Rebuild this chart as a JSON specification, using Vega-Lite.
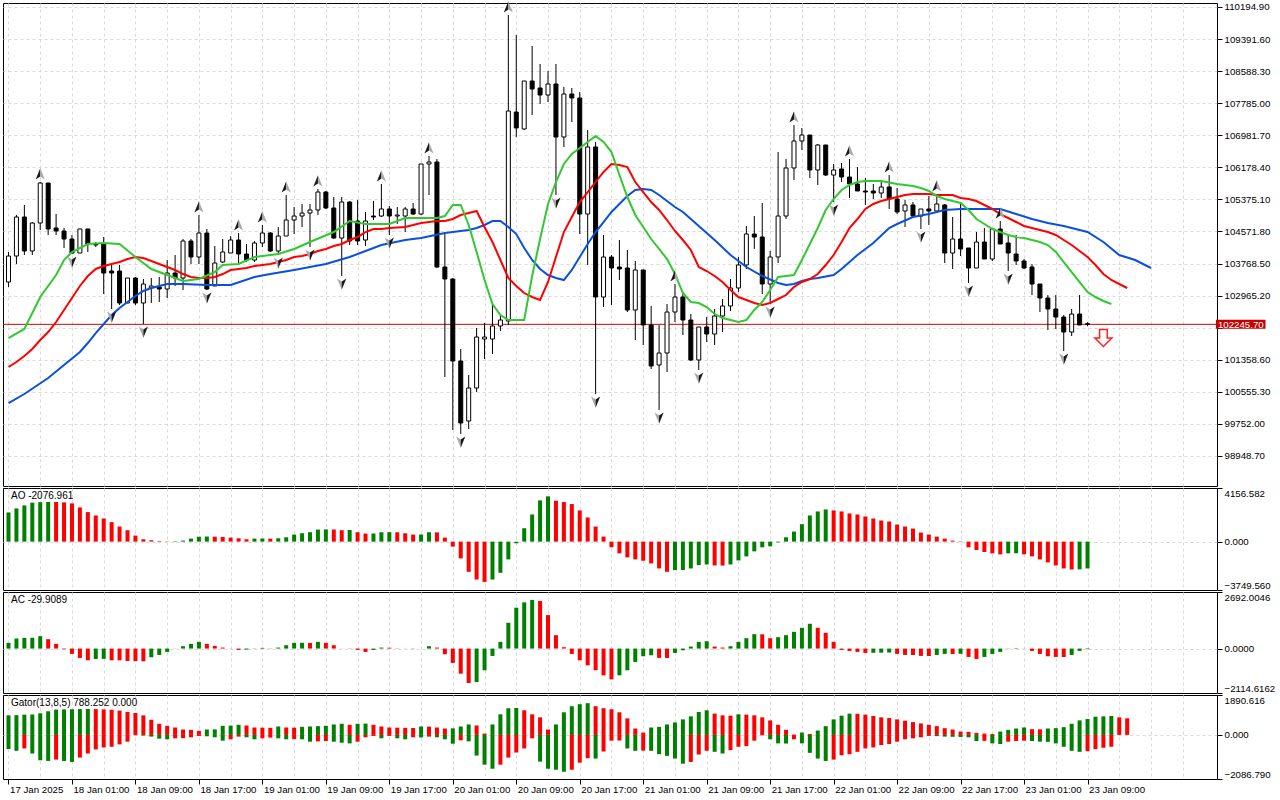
{
"$schema":"https://vega.github.io/schema/vega-lite/v6.json",
"background":"#ffffff",
"padding":{"left":2,"top":0,"right":0,"bottom":0},
"spacing":0,
"config":{
 "view":{"stroke":"#000000","strokeWidth":1},
 "font":"Liberation Sans, sans-serif",
 "axis":{"labelFont":"Liberation Sans, sans-serif","labelFontSize":9.7,"labelColor":"#000000","tickColor":"#000000","tickSize":5,"labelPadding":2,"domain":false,"gridColor":"#d9d9d9","gridDash":[3,3],"gridWidth":1,"labelOverlap":false},
 "text":{"font":"Liberation Sans, sans-serif","fontSize":10,"color":"#000000"}
},
"datasets":{
"current":[{"p":102245.7}],
"signals":[{"t":"2025-01-23T11:00Z","p":101903}],
"bars":[
{"t":"2025-01-17T17:00Z","o":103306,"h":104058,"l":103181,"c":103957,"ao":2262,"ac":271,"gu":928,"gl":-672},
{"t":"2025-01-17T18:00Z","o":103957,"h":104984,"l":103757,"c":104934,"ao":2574,"ac":478,"gu":936,"gl":-752},
{"t":"2025-01-17T19:00Z","o":104934,"h":105235,"l":103982,"c":104083,"ao":2808,"ac":510,"gu":960,"gl":-640},
{"t":"2025-01-17T20:00Z","o":104083,"h":104809,"l":103982,"c":104784,"ao":3020,"ac":515,"gu":968,"gl":-880},
{"t":"2025-01-17T21:00Z","o":104784,"h":105811,"l":104609,"c":105786,"ao":3060,"ac":590,"gu":1024,"gl":-1200,"fr":"up"},
{"t":"2025-01-17T22:00Z","o":105786,"h":105786,"l":104483,"c":104634,"ao":3080,"ac":446,"gu":1120,"gl":-1232},
{"t":"2025-01-17T23:00Z","o":104659,"h":105009,"l":104483,"c":104584,"ao":3070,"ac":223,"gu":1200,"gl":-1168},
{"t":"2025-01-18T00:00Z","o":104584,"h":104659,"l":104158,"c":104383,"ao":3040,"ac":-32,"gu":1208,"gl":-1232},
{"t":"2025-01-18T01:00Z","o":104383,"h":104483,"l":104007,"c":104032,"ao":2964,"ac":-255,"gu":1216,"gl":-1280,"fr":"dn"},
{"t":"2025-01-18T02:00Z","o":104032,"h":104634,"l":104032,"c":104634,"ao":2652,"ac":-446,"gu":1224,"gl":-1072},
{"t":"2025-01-18T03:00Z","o":104634,"h":104634,"l":104057,"c":104258,"ao":2288,"ac":-558,"gu":1232,"gl":-880},
{"t":"2025-01-18T04:00Z","o":104258,"h":104308,"l":104183,"c":104233,"ao":2028,"ac":-494,"gu":1224,"gl":-688},
{"t":"2025-01-18T05:00Z","o":104258,"h":104433,"l":103005,"c":103531,"ao":1794,"ac":-490,"gu":1208,"gl":-592},
{"t":"2025-01-18T06:00Z","o":103582,"h":103732,"l":102630,"c":103531,"ao":1508,"ac":-558,"gu":1192,"gl":-560,"fr":"dn"},
{"t":"2025-01-18T07:00Z","o":103582,"h":103732,"l":102730,"c":102780,"ao":1170,"ac":-560,"gu":1152,"gl":-448},
{"t":"2025-01-18T08:00Z","o":102780,"h":103406,"l":102780,"c":103406,"ao":884,"ac":-590,"gu":1088,"gl":-320},
{"t":"2025-01-18T09:00Z","o":103406,"h":103431,"l":102730,"c":102780,"ao":468,"ac":-595,"gu":1040,"gl":-16},
{"t":"2025-01-18T10:00Z","o":102780,"h":103381,"l":102254,"c":103256,"ao":182,"ac":-605,"gu":928,"gl":-32,"fr":"dn"},
{"t":"2025-01-18T11:00Z","o":103156,"h":103406,"l":102780,"c":103206,"ao":104,"ac":-414,"gu":720,"gl":-80},
{"t":"2025-01-18T12:00Z","o":103181,"h":103431,"l":102805,"c":103131,"ao":40,"ac":-303,"gu":528,"gl":-176},
{"t":"2025-01-18T13:00Z","o":103131,"h":103857,"l":102905,"c":103531,"ao":20,"ac":-159,"gu":432,"gl":-208},
{"t":"2025-01-18T14:00Z","o":103531,"h":103982,"l":103206,"c":103406,"ao":30,"ac":5,"gu":352,"gl":-160},
{"t":"2025-01-18T15:00Z","o":103406,"h":104383,"l":103106,"c":104333,"ao":78,"ac":112,"gu":256,"gl":-152},
{"t":"2025-01-18T16:00Z","o":104333,"h":104383,"l":103757,"c":103932,"ao":234,"ac":223,"gu":240,"gl":-112},
{"t":"2025-01-18T17:00Z","o":103932,"h":104984,"l":103757,"c":104533,"ao":380,"ac":319,"gu":192,"gl":-48,"fr":"up"},
{"t":"2025-01-18T18:00Z","o":104533,"h":104634,"l":103106,"c":103131,"ao":395,"ac":223,"gu":256,"gl":-64,"fr":"dn"},
{"t":"2025-01-18T19:00Z","o":103206,"h":104208,"l":103206,"c":103782,"ao":385,"ac":127,"gu":264,"gl":-112},
{"t":"2025-01-18T20:00Z","o":103807,"h":104383,"l":103782,"c":104058,"ao":364,"ac":48,"gu":432,"gl":-272},
{"t":"2025-01-18T21:00Z","o":104032,"h":104458,"l":104032,"c":104358,"ao":312,"ac":5,"gu":440,"gl":-208},
{"t":"2025-01-18T22:00Z","o":104358,"h":104533,"l":103782,"c":104007,"ao":260,"ac":-64,"gu":480,"gl":-80,"fr":"up"},
{"t":"2025-01-18T23:00Z","o":104007,"h":104258,"l":103807,"c":103857,"ao":182,"ac":-48,"gu":448,"gl":-112},
{"t":"2025-01-19T00:00Z","o":103857,"h":104333,"l":103807,"c":104283,"ao":234,"ac":-10,"gu":352,"gl":-208},
{"t":"2025-01-19T01:00Z","o":104283,"h":104734,"l":104183,"c":104533,"ao":240,"ac":32,"gu":344,"gl":-160,"fr":"up"},
{"t":"2025-01-19T02:00Z","o":104533,"h":104558,"l":104058,"c":104083,"ao":230,"ac":-10,"gu":336,"gl":-128},
{"t":"2025-01-19T03:00Z","o":104083,"h":104684,"l":103982,"c":104458,"ao":260,"ac":48,"gu":400,"gl":-160,"fr":"dn"},
{"t":"2025-01-19T04:00Z","o":104458,"h":105485,"l":104458,"c":104859,"ao":338,"ac":159,"gu":352,"gl":-208,"fr":"up"},
{"t":"2025-01-19T05:00Z","o":104859,"h":105185,"l":104508,"c":104959,"ao":546,"ac":271,"gu":344,"gl":-200},
{"t":"2025-01-19T06:00Z","o":104959,"h":105260,"l":104684,"c":105034,"ao":650,"ac":275,"gu":384,"gl":-208},
{"t":"2025-01-19T07:00Z","o":105034,"h":105260,"l":104183,"c":105110,"ao":728,"ac":268,"gu":400,"gl":-320,"fr":"dn"},
{"t":"2025-01-19T08:00Z","o":105110,"h":105636,"l":104984,"c":105560,"ao":936,"ac":319,"gu":416,"gl":-304,"fr":"up"},
{"t":"2025-01-19T09:00Z","o":105560,"h":105586,"l":105135,"c":105160,"ao":950,"ac":271,"gu":432,"gl":-288},
{"t":"2025-01-19T10:00Z","o":105160,"h":105435,"l":104383,"c":104408,"ao":940,"ac":159,"gu":496,"gl":-320},
{"t":"2025-01-19T11:00Z","o":104408,"h":105435,"l":103456,"c":105310,"ao":884,"ac":-5,"gu":528,"gl":-368,"fr":"dn"},
{"t":"2025-01-19T12:00Z","o":105310,"h":105335,"l":104233,"c":104333,"ao":900,"ac":-10,"gu":480,"gl":-400},
{"t":"2025-01-19T13:00Z","o":104834,"h":105360,"l":104233,"c":104333,"ao":728,"ac":-64,"gu":528,"gl":-320},
{"t":"2025-01-19T14:00Z","o":104358,"h":105060,"l":104208,"c":104834,"ao":624,"ac":-159,"gu":536,"gl":-112},
{"t":"2025-01-19T15:00Z","o":104959,"h":105335,"l":104859,"c":104934,"ao":630,"ac":-64,"gu":480,"gl":-48},
{"t":"2025-01-19T16:00Z","o":104959,"h":105761,"l":104934,"c":105135,"ao":728,"ac":48,"gu":400,"gl":-160,"fr":"up"},
{"t":"2025-01-19T17:00Z","o":105135,"h":105210,"l":104483,"c":104959,"ao":735,"ac":40,"gu":352,"gl":-48,"fr":"dn"},
{"t":"2025-01-19T18:00Z","o":104959,"h":105185,"l":104759,"c":104984,"ao":725,"ac":10,"gu":344,"gl":-160},
{"t":"2025-01-19T19:00Z","o":104959,"h":105185,"l":104558,"c":105135,"ao":650,"ac":-5,"gu":336,"gl":-208},
{"t":"2025-01-19T20:00Z","o":105135,"h":105285,"l":104984,"c":105009,"ao":546,"ac":-10,"gu":328,"gl":-112},
{"t":"2025-01-19T21:00Z","o":105009,"h":106262,"l":104984,"c":106262,"ao":555,"ac":0,"gu":400,"gl":-120},
{"t":"2025-01-19T22:00Z","o":106262,"h":106462,"l":105485,"c":106312,"ao":728,"ac":112,"gu":392,"gl":-80,"fr":"up"},
{"t":"2025-01-19T23:00Z","o":106312,"h":106387,"l":103657,"c":103682,"ao":720,"ac":48,"gu":352,"gl":-112},
{"t":"2025-01-20T00:00Z","o":103682,"h":104558,"l":100926,"c":103381,"ao":312,"ac":-271,"gu":304,"gl":-208},
{"t":"2025-01-20T01:00Z","o":103381,"h":103406,"l":99599,"c":101327,"ao":-390,"ac":-685,"gu":312,"gl":-416},
{"t":"2025-01-20T02:00Z","o":101327,"h":101628,"l":99498,"c":99774,"ao":-1300,"ac":-1195,"gu":400,"gl":-256,"fr":"dn"},
{"t":"2025-01-20T03:00Z","o":99824,"h":100976,"l":99624,"c":100651,"ao":-2340,"ac":-1641,"gu":496,"gl":-304},
{"t":"2025-01-20T04:00Z","o":100651,"h":102154,"l":100550,"c":101928,"ao":-2938,"ac":-1593,"gu":448,"gl":-976},
{"t":"2025-01-20T05:00Z","o":101878,"h":102279,"l":101377,"c":101928,"ao":-3120,"ac":-1035,"gu":64,"gl":-1408},
{"t":"2025-01-20T06:00Z","o":101878,"h":102805,"l":101502,"c":102204,"ao":-2938,"ac":-350,"gu":496,"gl":-1600},
{"t":"2025-01-20T07:00Z","o":102204,"h":102479,"l":102079,"c":102354,"ao":-2418,"ac":319,"gu":976,"gl":-1408},
{"t":"2025-01-20T08:00Z","o":102329,"h":109994,"l":102229,"c":107590,"ao":-1378,"ac":1227,"gu":1264,"gl":-1072,"fr":"up"},
{"t":"2025-01-20T09:00Z","o":107564,"h":109493,"l":106938,"c":107164,"ao":-130,"ac":1943,"gu":1272,"gl":-832},
{"t":"2025-01-20T10:00Z","o":107139,"h":108341,"l":107114,"c":108341,"ao":1040,"ac":2198,"gu":1168,"gl":-640},
{"t":"2025-01-20T11:00Z","o":108341,"h":109218,"l":107489,"c":108141,"ao":2106,"ac":2310,"gu":976,"gl":-160},
{"t":"2025-01-20T12:00Z","o":108166,"h":108767,"l":107765,"c":107990,"ao":3198,"ac":2262,"gu":832,"gl":-1264},
{"t":"2025-01-20T13:00Z","o":107990,"h":108592,"l":107815,"c":108266,"ao":3510,"ac":1593,"gu":256,"gl":-1600},
{"t":"2025-01-20T14:00Z","o":108266,"h":108767,"l":105485,"c":106938,"ao":3172,"ac":637,"gu":496,"gl":-1648,"fr":"dn"},
{"t":"2025-01-20T15:00Z","o":106938,"h":108191,"l":106688,"c":108015,"ao":3068,"ac":64,"gu":1072,"gl":-1744},
{"t":"2025-01-20T16:00Z","o":108015,"h":108166,"l":107314,"c":107915,"ao":2912,"ac":-255,"gu":1360,"gl":-1648},
{"t":"2025-01-20T17:00Z","o":107915,"h":108065,"l":104508,"c":105009,"ao":2418,"ac":-558,"gu":1456,"gl":-1312},
{"t":"2025-01-20T18:00Z","o":105009,"h":107114,"l":103732,"c":106688,"ao":1872,"ac":-797,"gu":1504,"gl":-1104},
{"t":"2025-01-20T19:00Z","o":106688,"h":106813,"l":100500,"c":102930,"ao":1170,"ac":-1035,"gu":1360,"gl":-1120,"fr":"dn"},
{"t":"2025-01-20T20:00Z","o":102930,"h":104483,"l":102680,"c":103932,"ao":390,"ac":-1274,"gu":1264,"gl":-784},
{"t":"2025-01-20T21:00Z","o":103932,"h":103982,"l":102730,"c":103657,"ao":-442,"ac":-1466,"gu":1216,"gl":-272},
{"t":"2025-01-20T22:00Z","o":103682,"h":104358,"l":103356,"c":103632,"ao":-910,"ac":-1274,"gu":1072,"gl":-264},
{"t":"2025-01-20T23:00Z","o":103657,"h":104108,"l":102554,"c":102605,"ao":-1222,"ac":-1035,"gu":784,"gl":-640},
{"t":"2025-01-21T00:00Z","o":102605,"h":103832,"l":101853,"c":103607,"ao":-1378,"ac":-637,"gu":304,"gl":-752},
{"t":"2025-01-21T01:00Z","o":103607,"h":103607,"l":101728,"c":102229,"ao":-1482,"ac":-366,"gu":112,"gl":-744},
{"t":"2025-01-21T02:00Z","o":102229,"h":102705,"l":101127,"c":101202,"ao":-1690,"ac":-319,"gu":352,"gl":-752},
{"t":"2025-01-21T03:00Z","o":101227,"h":102229,"l":100100,"c":101527,"ao":-2080,"ac":-446,"gu":384,"gl":-912,"fr":"dn"},
{"t":"2025-01-21T04:00Z","o":101527,"h":102755,"l":101051,"c":102554,"ao":-2340,"ac":-450,"gu":496,"gl":-992},
{"t":"2025-01-21T05:00Z","o":102554,"h":103256,"l":102304,"c":102930,"ao":-2210,"ac":-207,"gu":592,"gl":-1120,"fr":"up"},
{"t":"2025-01-21T06:00Z","o":102930,"h":103055,"l":101978,"c":102354,"ao":-2200,"ac":-80,"gu":736,"gl":-1360},
{"t":"2025-01-21T07:00Z","o":102354,"h":102504,"l":101327,"c":101352,"ao":-2080,"ac":96,"gu":880,"gl":-1280},
{"t":"2025-01-21T08:00Z","o":101352,"h":102179,"l":101102,"c":102179,"ao":-1820,"ac":319,"gu":1088,"gl":-928,"fr":"dn"},
{"t":"2025-01-21T09:00Z","o":102179,"h":102429,"l":101803,"c":102003,"ao":-1768,"ac":350,"gu":1168,"gl":-752},
{"t":"2025-01-21T10:00Z","o":102003,"h":102630,"l":101728,"c":102454,"ao":-1846,"ac":96,"gu":1008,"gl":-800},
{"t":"2025-01-21T11:00Z","o":102454,"h":102880,"l":102053,"c":102705,"ao":-1856,"ac":48,"gu":928,"gl":-880},
{"t":"2025-01-21T12:00Z","o":102705,"h":103381,"l":102580,"c":103156,"ao":-1768,"ac":112,"gu":912,"gl":-720},
{"t":"2025-01-21T13:00Z","o":103156,"h":103932,"l":103055,"c":103732,"ao":-1456,"ac":319,"gu":976,"gl":-560},
{"t":"2025-01-21T14:00Z","o":103732,"h":104709,"l":103632,"c":104508,"ao":-1144,"ac":494,"gu":960,"gl":-528},
{"t":"2025-01-21T15:00Z","o":104508,"h":104959,"l":104133,"c":104433,"ao":-754,"ac":685,"gu":928,"gl":-272},
{"t":"2025-01-21T16:00Z","o":104433,"h":105285,"l":103005,"c":103256,"ao":-442,"ac":680,"gu":832,"gl":-16},
{"t":"2025-01-21T17:00Z","o":103256,"h":104083,"l":102755,"c":103932,"ao":-364,"ac":494,"gu":688,"gl":-208,"fr":"dn"},
{"t":"2025-01-21T18:00Z","o":103932,"h":106562,"l":103782,"c":104959,"ao":-52,"ac":542,"gu":480,"gl":-400},
{"t":"2025-01-21T19:00Z","o":104959,"h":106387,"l":104884,"c":106162,"ao":338,"ac":637,"gu":240,"gl":-408},
{"t":"2025-01-21T20:00Z","o":106162,"h":107239,"l":105861,"c":106838,"ao":780,"ac":797,"gu":16,"gl":-208,"fr":"up"},
{"t":"2025-01-21T21:00Z","o":106838,"h":107164,"l":106613,"c":106988,"ao":1352,"ac":988,"gu":112,"gl":-400},
{"t":"2025-01-21T22:00Z","o":106988,"h":106988,"l":105911,"c":106112,"ao":2028,"ac":1179,"gu":48,"gl":-848},
{"t":"2025-01-21T23:00Z","o":106112,"h":106763,"l":105736,"c":106738,"ao":2340,"ac":988,"gu":208,"gl":-1120},
{"t":"2025-01-22T00:00Z","o":106738,"h":106738,"l":105961,"c":105986,"ao":2496,"ac":749,"gu":416,"gl":-1232},
{"t":"2025-01-22T01:00Z","o":105986,"h":106262,"l":105310,"c":106112,"ao":2418,"ac":319,"gu":736,"gl":-1168,"fr":"dn"},
{"t":"2025-01-22T02:00Z","o":106137,"h":106287,"l":105811,"c":105936,"ao":2340,"ac":-64,"gu":912,"gl":-960},
{"t":"2025-01-22T03:00Z","o":105936,"h":106387,"l":105410,"c":105761,"ao":2184,"ac":-112,"gu":1008,"gl":-912,"fr":"up"},
{"t":"2025-01-22T04:00Z","o":105761,"h":106187,"l":105586,"c":105586,"ao":2106,"ac":-159,"gu":1000,"gl":-800},
{"t":"2025-01-22T05:00Z","o":105586,"h":105911,"l":105235,"c":105560,"ao":1950,"ac":-207,"gu":960,"gl":-640},
{"t":"2025-01-22T06:00Z","o":105586,"h":105761,"l":105385,"c":105535,"ao":1794,"ac":-200,"gu":896,"gl":-592},
{"t":"2025-01-22T07:00Z","o":105535,"h":105836,"l":105410,"c":105686,"ao":1638,"ac":-195,"gu":832,"gl":-480},
{"t":"2025-01-22T08:00Z","o":105686,"h":105986,"l":105135,"c":105385,"ao":1560,"ac":-190,"gu":800,"gl":-432,"fr":"up"},
{"t":"2025-01-22T09:00Z","o":105385,"h":105661,"l":105009,"c":105060,"ao":1326,"ac":-255,"gu":736,"gl":-320},
{"t":"2025-01-22T10:00Z","o":105085,"h":105360,"l":104684,"c":105235,"ao":1170,"ac":-303,"gu":672,"gl":-208},
{"t":"2025-01-22T11:00Z","o":105235,"h":105310,"l":104909,"c":104959,"ao":1014,"ac":-305,"gu":608,"gl":-160},
{"t":"2025-01-22T12:00Z","o":104959,"h":105135,"l":104634,"c":105135,"ao":702,"ac":-350,"gu":544,"gl":-112,"fr":"dn"},
{"t":"2025-01-22T13:00Z","o":105135,"h":105460,"l":104734,"c":105085,"ao":546,"ac":-355,"gu":480,"gl":-48},
{"t":"2025-01-22T14:00Z","o":105085,"h":105510,"l":105060,"c":105260,"ao":390,"ac":-303,"gu":416,"gl":-56,"fr":"up"},
{"t":"2025-01-22T15:00Z","o":105235,"h":105260,"l":103782,"c":104032,"ao":234,"ac":-255,"gu":320,"gl":-80},
{"t":"2025-01-22T16:00Z","o":104032,"h":104934,"l":103632,"c":104383,"ao":78,"ac":-260,"gu":256,"gl":-88},
{"t":"2025-01-22T17:00Z","o":104383,"h":105260,"l":103957,"c":104133,"ao":26,"ac":-250,"gu":160,"gl":-96},
{"t":"2025-01-22T18:00Z","o":104158,"h":104158,"l":103281,"c":103657,"ao":-442,"ac":-398,"gu":144,"gl":-112,"fr":"dn"},
{"t":"2025-01-22T19:00Z","o":103657,"h":104558,"l":103657,"c":104308,"ao":-650,"ac":-494,"gu":96,"gl":-288},
{"t":"2025-01-22T20:00Z","o":104308,"h":104659,"l":103882,"c":103882,"ao":-806,"ac":-398,"gu":64,"gl":-280},
{"t":"2025-01-22T21:00Z","o":103882,"h":104659,"l":103832,"c":104634,"ao":-910,"ac":-255,"gu":48,"gl":-400},
{"t":"2025-01-22T22:00Z","o":104634,"h":104834,"l":104258,"c":104258,"ao":-988,"ac":-159,"gu":160,"gl":-432,"fr":"up"},
{"t":"2025-01-22T23:00Z","o":104283,"h":104483,"l":103582,"c":104032,"ao":-910,"ac":-10,"gu":240,"gl":-320,"fr":"dn"},
{"t":"2025-01-23T00:00Z","o":104007,"h":104483,"l":103732,"c":103832,"ao":-900,"ac":-20,"gu":304,"gl":-288},
{"t":"2025-01-23T01:00Z","o":103832,"h":103882,"l":103632,"c":103657,"ao":-988,"ac":-5,"gu":352,"gl":-272},
{"t":"2025-01-23T02:00Z","o":103682,"h":103757,"l":102980,"c":103256,"ao":-1144,"ac":-112,"gu":272,"gl":-288},
{"t":"2025-01-23T03:00Z","o":103256,"h":103256,"l":102554,"c":102905,"ao":-1378,"ac":-255,"gu":264,"gl":-320},
{"t":"2025-01-23T04:00Z","o":102905,"h":102980,"l":102104,"c":102630,"ao":-1612,"ac":-366,"gu":304,"gl":-328},
{"t":"2025-01-23T05:00Z","o":102630,"h":102980,"l":102129,"c":102429,"ao":-1846,"ac":-398,"gu":320,"gl":-400},
{"t":"2025-01-23T06:00Z","o":102429,"h":102479,"l":101578,"c":102053,"ao":-2080,"ac":-400,"gu":368,"gl":-560,"fr":"dn"},
{"t":"2025-01-23T07:00Z","o":102053,"h":102630,"l":101953,"c":102504,"ao":-2158,"ac":-303,"gu":528,"gl":-752},
{"t":"2025-01-23T08:00Z","o":102504,"h":102980,"l":102229,"c":102229,"ao":-2150,"ac":-112,"gu":688,"gl":-800},
{"t":"2025-01-23T09:00Z","o":102260,"h":102300,"l":102200,"c":102245.7,"ao":-2076.961,"ac":-29.9089,"gu":752,"gl":-768},
{"t":"2025-01-23T10:00Z","gu":864,"gl":-672},
{"t":"2025-01-23T11:00Z","gu":880,"gl":-608},
{"t":"2025-01-23T12:00Z","gu":896,"gl":-560},
{"t":"2025-01-23T13:00Z","gu":832},
{"t":"2025-01-23T14:00Z","gu":788.252}
],
"jaw":[
{"t":"2025-01-17T17:00Z","v":100275},{"t":"2025-01-17T19:00Z","v":100500},{"t":"2025-01-17T22:00Z","v":100901},{"t":"2025-01-18T00:00Z","v":101227},{"t":"2025-01-18T02:00Z","v":101552},{"t":"2025-01-18T03:00Z","v":101778},{"t":"2025-01-18T04:00Z","v":102028},{"t":"2025-01-18T05:00Z","v":102254},{"t":"2025-01-18T06:00Z","v":102479},{"t":"2025-01-18T07:00Z","v":102655},{"t":"2025-01-18T08:00Z","v":102805},{"t":"2025-01-18T09:00Z","v":102955},{"t":"2025-01-18T10:00Z","v":103081},{"t":"2025-01-18T11:00Z","v":103156},{"t":"2025-01-18T12:00Z","v":103206},{"t":"2025-01-18T13:00Z","v":103256},{"t":"2025-01-18T15:00Z","v":103256},{"t":"2025-01-18T18:00Z","v":103231},{"t":"2025-01-18T21:00Z","v":103231},{"t":"2025-01-19T00:00Z","v":103431},{"t":"2025-01-19T02:00Z","v":103506},{"t":"2025-01-19T05:00Z","v":103607},{"t":"2025-01-19T07:00Z","v":103682},{"t":"2025-01-19T09:00Z","v":103757},{"t":"2025-01-19T12:00Z","v":103932},{"t":"2025-01-19T14:00Z","v":104083},{"t":"2025-01-19T16:00Z","v":104233},{"t":"2025-01-19T19:00Z","v":104358},{"t":"2025-01-19T21:00Z","v":104408},{"t":"2025-01-20T00:00Z","v":104533},{"t":"2025-01-20T02:00Z","v":104584},{"t":"2025-01-20T03:00Z","v":104609},{"t":"2025-01-20T04:00Z","v":104659},{"t":"2025-01-20T05:00Z","v":104734},{"t":"2025-01-20T06:00Z","v":104834},{"t":"2025-01-20T07:00Z","v":104834},{"t":"2025-01-20T08:00Z","v":104684},{"t":"2025-01-20T09:00Z","v":104508},{"t":"2025-01-20T10:00Z","v":104158},{"t":"2025-01-20T11:00Z","v":103857},{"t":"2025-01-20T12:00Z","v":103632},{"t":"2025-01-20T13:00Z","v":103481},{"t":"2025-01-20T14:00Z","v":103406},{"t":"2025-01-20T15:00Z","v":103356},{"t":"2025-01-20T16:00Z","v":103607},{"t":"2025-01-20T17:00Z","v":103932},{"t":"2025-01-20T18:00Z","v":104258},{"t":"2025-01-20T19:00Z","v":104558},{"t":"2025-01-20T20:00Z","v":104809},{"t":"2025-01-20T21:00Z","v":105060},{"t":"2025-01-20T22:00Z","v":105260},{"t":"2025-01-20T23:00Z","v":105460},{"t":"2025-01-21T00:00Z","v":105611},{"t":"2025-01-21T01:00Z","v":105636},{"t":"2025-01-21T02:00Z","v":105611},{"t":"2025-01-21T03:00Z","v":105485},{"t":"2025-01-21T04:00Z","v":105335},{"t":"2025-01-21T05:00Z","v":105185},{"t":"2025-01-21T06:00Z","v":105060},{"t":"2025-01-21T07:00Z","v":104884},{"t":"2025-01-21T08:00Z","v":104709},{"t":"2025-01-21T10:00Z","v":104358},{"t":"2025-01-21T12:00Z","v":103982},{"t":"2025-01-21T14:00Z","v":103682},{"t":"2025-01-21T16:00Z","v":103456},{"t":"2025-01-21T18:00Z","v":103281},{"t":"2025-01-21T19:00Z","v":103231},{"t":"2025-01-21T20:00Z","v":103256},{"t":"2025-01-21T21:00Z","v":103331},{"t":"2025-01-21T22:00Z","v":103381},{"t":"2025-01-21T23:00Z","v":103406},{"t":"2025-01-22T01:00Z","v":103481},{"t":"2025-01-22T02:00Z","v":103632},{"t":"2025-01-22T04:00Z","v":103982},{"t":"2025-01-22T06:00Z","v":104283},{"t":"2025-01-22T08:00Z","v":104659},{"t":"2025-01-22T09:00Z","v":104759},{"t":"2025-01-22T11:00Z","v":104934},{"t":"2025-01-22T13:00Z","v":105009},{"t":"2025-01-22T15:00Z","v":105110},{"t":"2025-01-22T17:00Z","v":105135},{"t":"2025-01-22T19:00Z","v":105135},{"t":"2025-01-22T22:00Z","v":105135},{"t":"2025-01-23T00:00Z","v":105009},{"t":"2025-01-23T02:00Z","v":104884},{"t":"2025-01-23T04:00Z","v":104784},{"t":"2025-01-23T06:00Z","v":104709},{"t":"2025-01-23T09:00Z","v":104558},{"t":"2025-01-23T11:00Z","v":104308},{"t":"2025-01-23T13:00Z","v":103982},{"t":"2025-01-23T15:00Z","v":103857},{"t":"2025-01-23T17:00Z","v":103657}
],
"teeth":[
{"t":"2025-01-17T17:00Z","v":101177},{"t":"2025-01-17T18:00Z","v":101302},{"t":"2025-01-17T19:00Z","v":101452},{"t":"2025-01-17T20:00Z","v":101628},{"t":"2025-01-17T21:00Z","v":101853},{"t":"2025-01-17T22:00Z","v":102053},{"t":"2025-01-17T23:00Z","v":102304},{"t":"2025-01-18T00:00Z","v":102605},{"t":"2025-01-18T01:00Z","v":102905},{"t":"2025-01-18T02:00Z","v":103206},{"t":"2025-01-18T03:00Z","v":103456},{"t":"2025-01-18T04:00Z","v":103632},{"t":"2025-01-18T05:00Z","v":103707},{"t":"2025-01-18T06:00Z","v":103757},{"t":"2025-01-18T07:00Z","v":103807},{"t":"2025-01-18T08:00Z","v":103882},{"t":"2025-01-18T09:00Z","v":103932},{"t":"2025-01-18T10:00Z","v":103907},{"t":"2025-01-18T11:00Z","v":103832},{"t":"2025-01-18T12:00Z","v":103757},{"t":"2025-01-18T13:00Z","v":103682},{"t":"2025-01-18T14:00Z","v":103607},{"t":"2025-01-18T15:00Z","v":103506},{"t":"2025-01-18T16:00Z","v":103431},{"t":"2025-01-18T17:00Z","v":103406},{"t":"2025-01-18T18:00Z","v":103406},{"t":"2025-01-18T19:00Z","v":103431},{"t":"2025-01-18T20:00Z","v":103506},{"t":"2025-01-18T21:00Z","v":103607},{"t":"2025-01-18T22:00Z","v":103632},{"t":"2025-01-18T23:00Z","v":103657},{"t":"2025-01-19T00:00Z","v":103707},{"t":"2025-01-19T01:00Z","v":103732},{"t":"2025-01-19T02:00Z","v":103757},{"t":"2025-01-19T03:00Z","v":103807},{"t":"2025-01-19T04:00Z","v":103857},{"t":"2025-01-19T05:00Z","v":103932},{"t":"2025-01-19T06:00Z","v":103957},{"t":"2025-01-19T07:00Z","v":104007},{"t":"2025-01-19T08:00Z","v":104083},{"t":"2025-01-19T09:00Z","v":104133},{"t":"2025-01-19T10:00Z","v":104208},{"t":"2025-01-19T11:00Z","v":104258},{"t":"2025-01-19T12:00Z","v":104358},{"t":"2025-01-19T13:00Z","v":104433},{"t":"2025-01-19T14:00Z","v":104558},{"t":"2025-01-19T15:00Z","v":104634},{"t":"2025-01-19T16:00Z","v":104634},{"t":"2025-01-19T17:00Z","v":104659},{"t":"2025-01-19T19:00Z","v":104684},{"t":"2025-01-19T20:00Z","v":104734},{"t":"2025-01-19T21:00Z","v":104784},{"t":"2025-01-19T22:00Z","v":104809},{"t":"2025-01-19T23:00Z","v":104834},{"t":"2025-01-20T00:00Z","v":104834},{"t":"2025-01-20T01:00Z","v":104884},{"t":"2025-01-20T02:00Z","v":104984},{"t":"2025-01-20T03:00Z","v":105034},{"t":"2025-01-20T04:00Z","v":105085},{"t":"2025-01-20T05:00Z","v":104684},{"t":"2025-01-20T06:00Z","v":104308},{"t":"2025-01-20T07:00Z","v":103857},{"t":"2025-01-20T08:00Z","v":103406},{"t":"2025-01-20T09:00Z","v":103206},{"t":"2025-01-20T10:00Z","v":103030},{"t":"2025-01-20T11:00Z","v":102930},{"t":"2025-01-20T12:00Z","v":102855},{"t":"2025-01-20T13:00Z","v":103306},{"t":"2025-01-20T14:00Z","v":103932},{"t":"2025-01-20T15:00Z","v":104558},{"t":"2025-01-20T16:00Z","v":104934},{"t":"2025-01-20T17:00Z","v":105310},{"t":"2025-01-20T18:00Z","v":105560},{"t":"2025-01-20T19:00Z","v":105811},{"t":"2025-01-20T20:00Z","v":106062},{"t":"2025-01-20T21:00Z","v":106262},{"t":"2025-01-20T22:00Z","v":106237},{"t":"2025-01-20T23:00Z","v":106187},{"t":"2025-01-21T00:00Z","v":105811},{"t":"2025-01-21T01:00Z","v":105560},{"t":"2025-01-21T02:00Z","v":105310},{"t":"2025-01-21T03:00Z","v":105110},{"t":"2025-01-21T04:00Z","v":104859},{"t":"2025-01-21T05:00Z","v":104584},{"t":"2025-01-21T06:00Z","v":104358},{"t":"2025-01-21T07:00Z","v":104108},{"t":"2025-01-21T08:00Z","v":103682},{"t":"2025-01-21T09:00Z","v":103581},{"t":"2025-01-21T10:00Z","v":103456},{"t":"2025-01-21T11:00Z","v":103306},{"t":"2025-01-21T12:00Z","v":103106},{"t":"2025-01-21T13:00Z","v":102930},{"t":"2025-01-21T14:00Z","v":102855},{"t":"2025-01-21T15:00Z","v":102780},{"t":"2025-01-21T16:00Z","v":102730},{"t":"2025-01-21T17:00Z","v":102780},{"t":"2025-01-21T18:00Z","v":102880},{"t":"2025-01-21T19:00Z","v":102980},{"t":"2025-01-21T20:00Z","v":103181},{"t":"2025-01-21T21:00Z","v":103306},{"t":"2025-01-21T22:00Z","v":103381},{"t":"2025-01-21T23:00Z","v":103506},{"t":"2025-01-22T00:00Z","v":103732},{"t":"2025-01-22T01:00Z","v":103982},{"t":"2025-01-22T02:00Z","v":104308},{"t":"2025-01-22T03:00Z","v":104659},{"t":"2025-01-22T04:00Z","v":104884},{"t":"2025-01-22T05:00Z","v":105135},{"t":"2025-01-22T06:00Z","v":105260},{"t":"2025-01-22T07:00Z","v":105335},{"t":"2025-01-22T08:00Z","v":105385},{"t":"2025-01-22T09:00Z","v":105435},{"t":"2025-01-22T10:00Z","v":105485},{"t":"2025-01-22T11:00Z","v":105510},{"t":"2025-01-22T13:00Z","v":105510},{"t":"2025-01-22T14:00Z","v":105485},{"t":"2025-01-22T16:00Z","v":105485},{"t":"2025-01-22T17:00Z","v":105410},{"t":"2025-01-22T18:00Z","v":105385},{"t":"2025-01-22T19:00Z","v":105335},{"t":"2025-01-22T20:00Z","v":105235},{"t":"2025-01-22T21:00Z","v":105135},{"t":"2025-01-22T22:00Z","v":105009},{"t":"2025-01-22T23:00Z","v":104909},{"t":"2025-01-23T00:00Z","v":104809},{"t":"2025-01-23T01:00Z","v":104709},{"t":"2025-01-23T02:00Z","v":104659},{"t":"2025-01-23T03:00Z","v":104609},{"t":"2025-01-23T04:00Z","v":104558},{"t":"2025-01-23T05:00Z","v":104483},{"t":"2025-01-23T06:00Z","v":104358},{"t":"2025-01-23T07:00Z","v":104233},{"t":"2025-01-23T08:00Z","v":104083},{"t":"2025-01-23T09:00Z","v":103932},{"t":"2025-01-23T10:00Z","v":103732},{"t":"2025-01-23T11:00Z","v":103506},{"t":"2025-01-23T12:00Z","v":103356},{"t":"2025-01-23T13:00Z","v":103256},{"t":"2025-01-23T14:00Z","v":103156}
],
"lips":[
{"t":"2025-01-17T17:00Z","v":101903},{"t":"2025-01-17T19:00Z","v":102129},{"t":"2025-01-17T21:00Z","v":102930},{"t":"2025-01-17T23:00Z","v":103481},{"t":"2025-01-18T00:00Z","v":103857},{"t":"2025-01-18T01:00Z","v":104057},{"t":"2025-01-18T03:00Z","v":104258},{"t":"2025-01-18T05:00Z","v":104283},{"t":"2025-01-18T07:00Z","v":104258},{"t":"2025-01-18T09:00Z","v":103932},{"t":"2025-01-18T11:00Z","v":103632},{"t":"2025-01-18T13:00Z","v":103481},{"t":"2025-01-18T15:00Z","v":103331},{"t":"2025-01-18T17:00Z","v":103381},{"t":"2025-01-18T19:00Z","v":103556},{"t":"2025-01-18T20:00Z","v":103732},{"t":"2025-01-18T22:00Z","v":103757},{"t":"2025-01-19T00:00Z","v":103932},{"t":"2025-01-19T03:00Z","v":104007},{"t":"2025-01-19T05:00Z","v":104133},{"t":"2025-01-19T07:00Z","v":104308},{"t":"2025-01-19T10:00Z","v":104558},{"t":"2025-01-19T12:00Z","v":104834},{"t":"2025-01-19T14:00Z","v":104759},{"t":"2025-01-19T17:00Z","v":104759},{"t":"2025-01-19T19:00Z","v":104909},{"t":"2025-01-19T23:00Z","v":104909},{"t":"2025-01-20T00:00Z","v":104959},{"t":"2025-01-20T01:00Z","v":105235},{"t":"2025-01-20T02:00Z","v":105235},{"t":"2025-01-20T03:00Z","v":104734},{"t":"2025-01-20T04:00Z","v":104058},{"t":"2025-01-20T05:00Z","v":103356},{"t":"2025-01-20T06:00Z","v":102755},{"t":"2025-01-20T07:00Z","v":102479},{"t":"2025-01-20T08:00Z","v":102354},{"t":"2025-01-20T09:00Z","v":102354},{"t":"2025-01-20T10:00Z","v":102354},{"t":"2025-01-20T11:00Z","v":103456},{"t":"2025-01-20T12:00Z","v":104383},{"t":"2025-01-20T13:00Z","v":105260},{"t":"2025-01-20T14:00Z","v":105811},{"t":"2025-01-20T15:00Z","v":106262},{"t":"2025-01-20T16:00Z","v":106513},{"t":"2025-01-20T17:00Z","v":106663},{"t":"2025-01-20T18:00Z","v":106813},{"t":"2025-01-20T19:00Z","v":106963},{"t":"2025-01-20T20:00Z","v":106813},{"t":"2025-01-20T21:00Z","v":106562},{"t":"2025-01-20T22:00Z","v":105986},{"t":"2025-01-20T23:00Z","v":105435},{"t":"2025-01-21T00:00Z","v":104984},{"t":"2025-01-21T01:00Z","v":104684},{"t":"2025-01-21T02:00Z","v":104383},{"t":"2025-01-21T03:00Z","v":104133},{"t":"2025-01-21T04:00Z","v":103882},{"t":"2025-01-21T05:00Z","v":103506},{"t":"2025-01-21T06:00Z","v":103030},{"t":"2025-01-21T07:00Z","v":102805},{"t":"2025-01-21T08:00Z","v":102780},{"t":"2025-01-21T09:00Z","v":102680},{"t":"2025-01-21T10:00Z","v":102504},{"t":"2025-01-21T11:00Z","v":102404},{"t":"2025-01-21T12:00Z","v":102354},{"t":"2025-01-21T13:00Z","v":102304},{"t":"2025-01-21T14:00Z","v":102354},{"t":"2025-01-21T15:00Z","v":102605},{"t":"2025-01-21T16:00Z","v":102805},{"t":"2025-01-21T17:00Z","v":103106},{"t":"2025-01-21T18:00Z","v":103431},{"t":"2025-01-21T19:00Z","v":103456},{"t":"2025-01-21T20:00Z","v":103481},{"t":"2025-01-21T21:00Z","v":103857},{"t":"2025-01-21T22:00Z","v":104258},{"t":"2025-01-21T23:00Z","v":104659},{"t":"2025-01-22T00:00Z","v":105110},{"t":"2025-01-22T01:00Z","v":105385},{"t":"2025-01-22T02:00Z","v":105611},{"t":"2025-01-22T03:00Z","v":105736},{"t":"2025-01-22T04:00Z","v":105811},{"t":"2025-01-22T05:00Z","v":105836},{"t":"2025-01-22T07:00Z","v":105836},{"t":"2025-01-22T09:00Z","v":105761},{"t":"2025-01-22T11:00Z","v":105711},{"t":"2025-01-22T12:00Z","v":105661},{"t":"2025-01-22T13:00Z","v":105586},{"t":"2025-01-22T14:00Z","v":105460},{"t":"2025-01-22T15:00Z","v":105385},{"t":"2025-01-22T16:00Z","v":105335},{"t":"2025-01-22T17:00Z","v":105285},{"t":"2025-01-22T18:00Z","v":105110},{"t":"2025-01-22T19:00Z","v":104884},{"t":"2025-01-22T20:00Z","v":104759},{"t":"2025-01-22T21:00Z","v":104634},{"t":"2025-01-22T22:00Z","v":104558},{"t":"2025-01-22T23:00Z","v":104483},{"t":"2025-01-23T00:00Z","v":104433},{"t":"2025-01-23T01:00Z","v":104408},{"t":"2025-01-23T02:00Z","v":104358},{"t":"2025-01-23T03:00Z","v":104308},{"t":"2025-01-23T04:00Z","v":104233},{"t":"2025-01-23T05:00Z","v":104058},{"t":"2025-01-23T06:00Z","v":103807},{"t":"2025-01-23T07:00Z","v":103556},{"t":"2025-01-23T08:00Z","v":103306},{"t":"2025-01-23T09:00Z","v":103055},{"t":"2025-01-23T10:00Z","v":102930},{"t":"2025-01-23T11:00Z","v":102830},{"t":"2025-01-23T12:00Z","v":102755}
]
},
"vconcat":[
{
 "width":1214,"height":483,
 "layer":[
  {"data":{"name":"current"},"mark":{"type":"rule","color":"#d40000","strokeWidth":1},
   "encoding":{"y":{"field":"p","type":"quantitative","title":null,"scale":{"domain":[98196,110295],"zero":false,"nice":false},
     "axis":{"orient":"right","tickCount":30,"values":[98948.7,99752,100555.3,101358.6,102161.9,102965.2,103768.5,104571.8,105375.1,106178.4,106981.7,107785,108588.3,109391.6,110194.9],"labelExpr":"abs(datum.value-102161.9)<1 ? '' : format(datum.value,'.2f')","grid":true,"labelOverlap":false}}}},
  {"data":{"name":"bars"},"transform":[{"filter":"isValid(datum.o)"}],"mark":{"type":"rule","color":"#000000","strokeWidth":1},
   "encoding":{"x":{"field":"t","type":"temporal","title":null,"scale":{"type":"utc","domain":[1737132975000,1737679275000]},
     "axis":{"tickCount":60,"values":[1737133200000,1737147600000,1737162000000,1737176400000,1737190800000,1737205200000,1737219600000,1737234000000,1737248400000,1737262800000,1737277200000,1737291600000,1737306000000,1737320400000,1737334800000,1737349200000,1737363600000,1737378000000,1737392400000,1737406800000,1737421200000,1737435600000,1737450000000,1737464400000,1737478800000,1737493200000,1737507600000,1737522000000,1737536400000,1737550800000,1737565200000,1737579600000,1737594000000,1737608400000,1737622800000,1737637200000,1737651600000,1737666000000],"labels":false,"ticks":false,"tickSize":0,"labelPadding":0,"minExtent":0,"maxExtent":0,"grid":true}},
    "y":{"field":"l","type":"quantitative","title":null,"scale":{"domain":[98196,110295],"zero":false,"nice":false},"axis":{"orient":"right"}},"y2":{"field":"h"}}},
  {"data":{"name":"bars"},"transform":[{"filter":"isValid(datum.o)"}],"mark":{"type":"bar","width":4,"stroke":"#000000","strokeWidth":1,"orient":"vertical"},
   "encoding":{"x":{"field":"t","type":"temporal","title":null,"scale":{"type":"utc","domain":[1737132975000,1737679275000]}},
    "y":{"field":"o","type":"quantitative","title":null,"scale":{"domain":[98196,110295],"zero":false,"nice":false},"axis":{"orient":"right"}},"y2":{"field":"c"},
    "fill":{"condition":{"test":"datum.c >= datum.o","value":"#ffffff"},"value":"#000000"}}},
  {"data":{"name":"jaw"},"mark":{"type":"line","color":"#0a50dc","strokeWidth":2},
   "encoding":{"x":{"field":"t","type":"temporal","title":null,"scale":{"type":"utc","domain":[1737132975000,1737679275000]}},
    "y":{"field":"v","type":"quantitative","title":null,"scale":{"domain":[98196,110295],"zero":false,"nice":false},"axis":{"orient":"right"}}}},
  {"data":{"name":"teeth"},"mark":{"type":"line","color":"#ff0000","strokeWidth":2},
   "encoding":{"x":{"field":"t","type":"temporal","title":null,"scale":{"type":"utc","domain":[1737132975000,1737679275000]}},
    "y":{"field":"v","type":"quantitative","title":null,"scale":{"domain":[98196,110295],"zero":false,"nice":false},"axis":{"orient":"right"}}}},
  {"data":{"name":"lips"},"mark":{"type":"line","color":"#32c832","strokeWidth":2},
   "encoding":{"x":{"field":"t","type":"temporal","title":null,"scale":{"type":"utc","domain":[1737132975000,1737679275000]}},
    "y":{"field":"v","type":"quantitative","title":null,"scale":{"domain":[98196,110295],"zero":false,"nice":false},"axis":{"orient":"right"}}}},
  {"data":{"name":"bars"},"transform":[{"filter":"datum.fr == 'up'"}],"mark":{"type":"point","shape":"M0,-1L0,0.45L-0.8,0.95Z","filled":true,"color":"#1a1a1a","opacity":1,"size":130,"yOffset":-8},
   "encoding":{"x":{"field":"t","type":"temporal","title":null,"scale":{"type":"utc","domain":[1737132975000,1737679275000]}},
    "y":{"field":"h","type":"quantitative","title":null,"scale":{"domain":[98196,110295],"zero":false,"nice":false},"axis":{"orient":"right"}}}},
  {"data":{"name":"bars"},"transform":[{"filter":"datum.fr == 'up'"}],"mark":{"type":"point","shape":"M0,-1L0.8,0.95L0,0.45Z","filled":true,"color":"#a8a8a8","opacity":1,"size":130,"yOffset":-8},
   "encoding":{"x":{"field":"t","type":"temporal","title":null,"scale":{"type":"utc","domain":[1737132975000,1737679275000]}},
    "y":{"field":"h","type":"quantitative","title":null,"scale":{"domain":[98196,110295],"zero":false,"nice":false},"axis":{"orient":"right"}}}},
  {"data":{"name":"bars"},"transform":[{"filter":"datum.fr == 'dn'"}],"mark":{"type":"point","shape":"M0,1L0,-0.45L-0.8,-0.95Z","filled":true,"color":"#a8a8a8","opacity":1,"size":130,"yOffset":8},
   "encoding":{"x":{"field":"t","type":"temporal","title":null,"scale":{"type":"utc","domain":[1737132975000,1737679275000]}},
    "y":{"field":"l","type":"quantitative","title":null,"scale":{"domain":[98196,110295],"zero":false,"nice":false},"axis":{"orient":"right"}}}},
  {"data":{"name":"bars"},"transform":[{"filter":"datum.fr == 'dn'"}],"mark":{"type":"point","shape":"M0,1L0.8,-0.95L0,-0.45Z","filled":true,"color":"#1a1a1a","opacity":1,"size":130,"yOffset":8},
   "encoding":{"x":{"field":"t","type":"temporal","title":null,"scale":{"type":"utc","domain":[1737132975000,1737679275000]}},
    "y":{"field":"l","type":"quantitative","title":null,"scale":{"domain":[98196,110295],"zero":false,"nice":false},"axis":{"orient":"right"}}}},
  {"data":{"name":"signals"},"mark":{"type":"point","shape":"M-0.45,-1L0.45,-1L0.45,0L1,0L0,1L-1,0L-0.45,0Z","filled":true,"fill":"#ffffff","stroke":"#ff2020","strokeWidth":1.5,"opacity":1,"size":289},
   "encoding":{"x":{"field":"t","type":"temporal","title":null,"scale":{"type":"utc","domain":[1737132975000,1737679275000]}},
    "y":{"field":"p","type":"quantitative","title":null,"scale":{"domain":[98196,110295],"zero":false,"nice":false},"axis":{"orient":"right"}}}},
  {"data":{"name":"current"},"mark":{"type":"rect","color":"#c80000","yOffset":-4.5,"y2Offset":4.5},
   "encoding":{"x":{"datum":{"year":2025,"month":1,"date":24,"hours":1,"minutes":11,"utc":true},"type":"temporal","title":null,"scale":{"type":"utc","domain":[1737132975000,1737679275000]}},
    "x2":{"datum":{"year":2025,"month":1,"date":24,"hours":7,"minutes":26,"utc":true}},
    "y":{"field":"p","type":"quantitative","title":null,"scale":{"domain":[98196,110295],"zero":false,"nice":false},"axis":{"orient":"right"}},"y2":{"field":"p"}}},
  {"data":{"name":"current"},"mark":{"type":"text","color":"#ffffff","fontSize":9.7,"align":"center","baseline":"middle","dy":0.5},
   "encoding":{"x":{"datum":{"year":2025,"month":1,"date":24,"hours":4,"minutes":19,"utc":true},"type":"temporal","title":null,"scale":{"type":"utc","domain":[1737132975000,1737679275000]}},
    "y":{"field":"p","type":"quantitative","title":null,"scale":{"domain":[98196,110295],"zero":false,"nice":false},"axis":{"orient":"right"}},
    "text":{"field":"p","type":"quantitative","format":".2f"}}}
 ]
},
{
 "width":1214,"height":102,
 "layer":[
  {"data":{"name":"bars"},
   "transform":[{"filter":"isValid(datum.ao)"},{"window":[{"op":"lag","field":"ao","as":"prev"}],"sort":[{"field":"t"}]}],
   "mark":{"type":"bar","width":4,"orient":"vertical"},
   "encoding":{
    "x":{"field":"t","type":"temporal","title":null,"scale":{"type":"utc","domain":[1737132975000,1737679275000]},
     "axis":{"tickCount":60,"values":[1737133200000,1737147600000,1737162000000,1737176400000,1737190800000,1737205200000,1737219600000,1737234000000,1737248400000,1737262800000,1737277200000,1737291600000,1737306000000,1737320400000,1737334800000,1737349200000,1737363600000,1737378000000,1737392400000,1737406800000,1737421200000,1737435600000,1737450000000,1737464400000,1737478800000,1737493200000,1737507600000,1737522000000,1737536400000,1737550800000,1737565200000,1737579600000,1737594000000,1737608400000,1737622800000,1737637200000,1737651600000,1737666000000],"labels":false,"ticks":false,"tickSize":0,"labelPadding":0,"minExtent":0,"maxExtent":0,"grid":true}},
    "y":{"field":"ao","type":"quantitative","title":null,"scale":{"domain":[-3749.56,4156.582],"nice":false,"zero":false},
     "axis":{"orient":"right","tickCount":10,"values":[-3749.56,0,4156.582],"format":".3f","labelFlush":true,"grid":true,"gridColor":{"condition":{"test":"datum.value != 0","value":"transparent"},"value":"#d9d9d9"}}},
    "y2":{"datum":0},
    "color":{"condition":{"test":"datum.ao > datum.prev","value":"#008000"},"value":"#ff0000"}
   }},
  {"data":{"values":[{}]},"mark":{"type":"text","align":"left","baseline":"top","dx":3,"dy":3},
   "encoding":{"x":{"datum":{"year":2025,"month":1,"date":17,"hours":16,"minutes":56,"seconds":15,"utc":true},"type":"temporal","scale":{"type":"utc","domain":[1737132975000,1737679275000]}},
    "y":{"datum":4156.582,"type":"quantitative","scale":{"domain":[-3749.56,4156.582],"nice":false,"zero":false},"axis":{"orient":"right"}},
    "text":{"value":"AO -2076.961"}}}
 ]
},
{
 "width":1214,"height":101,
 "layer":[
  {"data":{"name":"bars"},
   "transform":[{"filter":"isValid(datum.ac)"},{"window":[{"op":"lag","field":"ac","as":"prev"}],"sort":[{"field":"t"}]}],
   "mark":{"type":"bar","width":4,"orient":"vertical"},
   "encoding":{
    "x":{"field":"t","type":"temporal","title":null,"scale":{"type":"utc","domain":[1737132975000,1737679275000]},
     "axis":{"tickCount":60,"values":[1737133200000,1737147600000,1737162000000,1737176400000,1737190800000,1737205200000,1737219600000,1737234000000,1737248400000,1737262800000,1737277200000,1737291600000,1737306000000,1737320400000,1737334800000,1737349200000,1737363600000,1737378000000,1737392400000,1737406800000,1737421200000,1737435600000,1737450000000,1737464400000,1737478800000,1737493200000,1737507600000,1737522000000,1737536400000,1737550800000,1737565200000,1737579600000,1737594000000,1737608400000,1737622800000,1737637200000,1737651600000,1737666000000],"labels":false,"ticks":false,"tickSize":0,"labelPadding":0,"minExtent":0,"maxExtent":0,"grid":true}},
    "y":{"field":"ac","type":"quantitative","title":null,"scale":{"domain":[-2114.6162,2692.0046],"nice":false,"zero":false},
     "axis":{"orient":"right","tickCount":10,"values":[-2114.6162,0,2692.0046],"format":".4f","labelFlush":true,"grid":true,"gridColor":{"condition":{"test":"datum.value != 0","value":"transparent"},"value":"#d9d9d9"}}},
    "y2":{"datum":0},
    "color":{"condition":{"test":"datum.ac > datum.prev","value":"#008000"},"value":"#ff0000"}
   }},
  {"data":{"values":[{}]},"mark":{"type":"text","align":"left","baseline":"top","dx":3,"dy":3},
   "encoding":{"x":{"datum":{"year":2025,"month":1,"date":17,"hours":16,"minutes":56,"seconds":15,"utc":true},"type":"temporal","scale":{"type":"utc","domain":[1737132975000,1737679275000]}},
    "y":{"datum":2692.0046,"type":"quantitative","scale":{"domain":[-2114.6162,2692.0046],"nice":false,"zero":false},"axis":{"orient":"right"}},
    "text":{"value":"AC -29.9089"}}}
 ]
},
{
 "width":1214,"height":84,
 "layer":[
  {"data":{"name":"bars"},
   "transform":[{"filter":"isValid(datum.gu)"},{"window":[{"op":"lag","field":"gu","as":"prev"}],"sort":[{"field":"t"}]}],
   "mark":{"type":"bar","width":4,"orient":"vertical"},
   "encoding":{
    "x":{"field":"t","type":"temporal","title":null,"scale":{"type":"utc","domain":[1737132975000,1737679275000]},
     "axis":{"tickCount":60,"values":[1737133200000,1737147600000,1737162000000,1737176400000,1737190800000,1737205200000,1737219600000,1737234000000,1737248400000,1737262800000,1737277200000,1737291600000,1737306000000,1737320400000,1737334800000,1737349200000,1737363600000,1737378000000,1737392400000,1737406800000,1737421200000,1737435600000,1737450000000,1737464400000,1737478800000,1737493200000,1737507600000,1737522000000,1737536400000,1737550800000,1737565200000,1737579600000,1737594000000,1737608400000,1737622800000,1737637200000,1737651600000,1737666000000],
      "grid":true,"labels":true,"ticks":true,"tickSize":5,"labelPadding":0,"labelAlign":"left","labelBaseline":"top","labelOffset":1,"labelOverlap":false,"labelFlush":false,"labelBound":false,
      "labelExpr":"(utchours(datum.value) % 8 == 1 && datum.value < 1737630000000) ? (datum.value < 1737140000000 ? '17 Jan 2025' : utcFormat(datum.value, '%d %b %H:%M')) : ''",
      "tickColor":{"condition":{"test":"utchours(datum.value) % 8 != 1 || datum.value > 1737630000000","value":"transparent"},"value":"#000000"}}},
    "y":{"field":"gu","type":"quantitative","title":null,"scale":{"domain":[-2086.79,1890.616],"nice":false,"zero":false},
     "axis":{"orient":"right","tickCount":10,"values":[-2086.79,0,1890.616],"format":".3f","labelFlush":true,"grid":true,"gridColor":{"condition":{"test":"datum.value != 0","value":"transparent"},"value":"#d9d9d9"}}},
    "y2":{"datum":0},
    "color":{"condition":{"test":"datum.gu > datum.prev","value":"#008000"},"value":"#ff0000"}
   }},
  {"data":{"name":"bars"},
   "transform":[{"filter":"isValid(datum.gl)"},{"window":[{"op":"lag","field":"gl","as":"prev"}],"sort":[{"field":"t"}]}],
   "mark":{"type":"bar","width":4,"orient":"vertical"},
   "encoding":{
    "x":{"field":"t","type":"temporal","title":null,"scale":{"type":"utc","domain":[1737132975000,1737679275000]}},
    "y":{"field":"gl","type":"quantitative","title":null,"scale":{"domain":[-2086.79,1890.616],"nice":false,"zero":false},"axis":{"orient":"right"}},
    "y2":{"datum":0},
    "color":{"condition":{"test":"datum.gl < datum.prev","value":"#008000"},"value":"#ff0000"}
   }},
  {"data":{"values":[{}]},"mark":{"type":"text","align":"left","baseline":"top","dx":3,"dy":3},
   "encoding":{"x":{"datum":{"year":2025,"month":1,"date":17,"hours":16,"minutes":56,"seconds":15,"utc":true},"type":"temporal","scale":{"type":"utc","domain":[1737132975000,1737679275000]}},
    "y":{"datum":1890.616,"type":"quantitative","scale":{"domain":[-2086.79,1890.616],"nice":false,"zero":false},"axis":{"orient":"right"}},
    "text":{"value":"Gator(13,8,5) 788.252 0.000"}}}
 ]
}
]
}
